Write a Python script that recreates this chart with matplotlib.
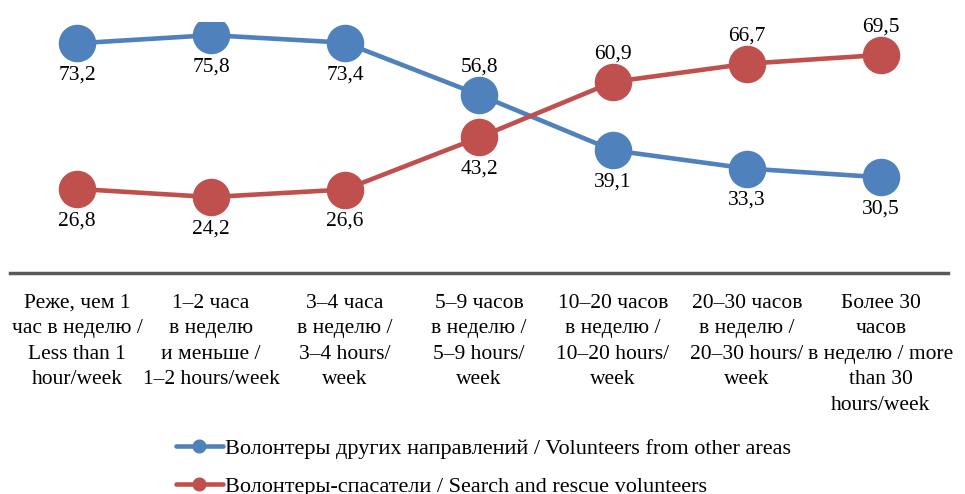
import matplotlib.pyplot as plt

plt.rcParams["font.family"] = ["Liberation Serif", "DejaVu Serif"]

CATEGORIES = [
    "Реже, чем 1\nчас в неделю /\nLess than 1\nhour/week",
    "1–2 часа\nв неделю\nи меньше /\n1–2 hours/week",
    "3–4 часа\nв неделю /\n3–4 hours/\nweek",
    "5–9 часов\nв неделю /\n5–9 hours/\nweek",
    "10–20 часов\nв неделю /\n10–20 hours/\nweek",
    "20–30 часов\nв неделю /\n20–30 hours/\nweek",
    "Более 30\nчасов\nв неделю / more\nthan 30\nhours/week",
]
OTHER = [73.2, 75.8, 73.4, 56.8, 39.1, 33.3, 30.5]
RESCUE = [26.8, 24.2, 26.6, 43.2, 60.9, 66.7, 69.5]
OTHER_LABEL = "Волонтеры других направлений / Volunteers from other areas"
RESCUE_LABEL = "Волонтеры-спасатели / Search and rescue volunteers"

# label above (+1) or below (-1) the marker
OTHER_SIDE = [-1, -1, -1, 1, -1, -1, -1]
RESCUE_SIDE = [-1, -1, -1, -1, 1, 1, 1]

BLUE = "#4F81BD"
RED = "#C0504D"


def fmt(v):
    return f"{v:.1f}".replace(".", ",")


fig = plt.figure(figsize=(9.65, 4.94), dpi=100)
ax = fig.add_axes([0.0104, 0.4474, 0.972, 0.5081])
x = list(range(len(CATEGORIES)))

for values, sides, color, label in [
    (OTHER, OTHER_SIDE, BLUE, OTHER_LABEL),
    (RESCUE, RESCUE_SIDE, RED, RESCUE_LABEL),
]:
    ax.plot(x, values, color=color, lw=3.3, marker="o", markersize=26,
            label=label, solid_capstyle="round")
    for xi, v, s in zip(x, values, sides):
        dy = 20 if s > 0 else -23
        ax.annotate(fmt(v), (xi, v), xytext=(0, dy), textcoords="offset points",
                    ha="center", va="center", fontsize=15.5, color="black")

ax.set_xlim(-0.5, len(CATEGORIES) - 0.5)
ax.set_ylim(0, 80)
ax.set_yticks([])
ax.set_xticks(x)
ax.set_xticklabels(CATEGORIES, fontsize=15.5, va="top", linespacing=1.46)
ax.tick_params(axis="x", length=0, pad=15)
for side in ["top", "right", "left"]:
    ax.spines[side].set_visible(False)
ax.spines["bottom"].set_color("#595959")
ax.spines["bottom"].set_linewidth(2.5)

fig.legend(loc="upper left", bbox_to_anchor=(0.173, 0.13), frameon=False,
           fontsize=16, markerscale=0.35, handlelength=2.1, handletextpad=0.1,
           labelspacing=0.76, borderaxespad=0)

fig.savefig("out.png", dpi=100)
